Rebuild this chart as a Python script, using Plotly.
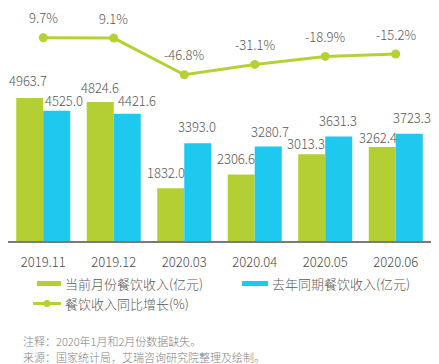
import plotly.graph_objects as go

# ---- data ----
months = ["2019.11", "2019.12", "2020.03", "2020.04", "2020.05", "2020.06"]
current_revenue = [4963.7, 4824.6, 1832.0, 2306.6, 3013.3, 3262.4]
last_year_revenue = [4525.0, 4421.6, 3393.0, 3280.7, 3631.3, 3723.3]
yoy_growth = [9.7, 9.1, -46.8, -31.1, -18.9, -15.2]

name_cur = "当前月份餐饮收入(亿元)"
name_last = "去年同期餐饮收入(亿元)"
name_yoy = "餐饮收入同比增长(%)"
note1 = "注释：2020年1月和2月份数据缺失。"
note2 = "来源：国家统计局，艾瑞咨询研究院整理及绘制。"

# ---- style ----
GREEN = "#b3cf33"
BLUE = "#1fc8ef"
LINE_GREEN = "#b5d235"
TEXT = "#595959"
FONT = "Noto Sans CJK SC"
WEIGHT = 300

# page body has an 8px margin: figure starts at window (8, 8)
OFF = 8
WIN_W, WIN_H = 439, 364
W, H = WIN_W - OFF, WIN_H - OFF
PLOT_X0, PLOT_X1 = 8, 431      # window px
PLOT_Y0, PLOT_Y1 = 10, 241     # window px
L = PLOT_X0 - OFF
R = W - (PLOT_X1 - OFF)
T = PLOT_Y0 - OFF
B = H - (PLOT_Y1 - OFF)
PW, PH = W - L - R, H - T - B

def px(x):
    return (x - PLOT_X0) / PW

def py(y):
    return (PLOT_Y1 - y) / PH

def fnt(size=13, color=TEXT):
    return dict(size=size, color=color, family=FONT, weight=WEIGHT)

# label nudges (pixels) to mimic the reference's label placement
green_dy = [18, 15, 16, 16, 11, 10]
blue_dy = [10, 13, 17, 15, 16, 16]
green_dx = [-2, 0, -5, -5, -6, -4]
blue_dx = [7, 10, -1, 2, -1, 3]

bargap = 0.234
cat_w = PW / len(months)
bar_w = cat_w * (1 - bargap) / 2

fig = go.Figure()
fig.add_trace(go.Bar(x=months, y=current_revenue, name=name_cur,
                     marker=dict(color=GREEN, line=dict(width=0)), showlegend=False))
fig.add_trace(go.Bar(x=months, y=last_year_revenue, name=name_last,
                     marker=dict(color=BLUE, line=dict(width=0)), showlegend=False))
fig.add_trace(go.Scatter(x=months, y=yoy_growth, name=name_yoy, yaxis="y2",
                         mode="lines+markers",
                         line=dict(color=LINE_GREEN, width=3),
                         marker=dict(color=LINE_GREEN, size=9),
                         showlegend=False))

ann = []
for i, m in enumerate(months):
    ann.append(dict(x=i, y=current_revenue[i], xref="x", yref="y",
                    text=f"{current_revenue[i]:.1f}", showarrow=False,
                    xshift=-bar_w / 2 + green_dx[i], yshift=green_dy[i],
                    font=fnt()))
    ann.append(dict(x=i, y=last_year_revenue[i], xref="x", yref="y",
                    text=f"{last_year_revenue[i]:.1f}", showarrow=False,
                    xshift=bar_w / 2 + blue_dx[i], yshift=blue_dy[i],
                    font=fnt()))
    ann.append(dict(x=i, y=yoy_growth[i], xref="x", yref="y2",
                    text=f"{yoy_growth[i]:.1f}%", showarrow=False,
                    yshift=20, font=fnt()))

# custom legend
shapes = [
    dict(type="rect", xref="paper", yref="paper", x0=px(37), x1=px(61),
         y0=py(286), y1=py(281), fillcolor=GREEN, line=dict(width=0)),
    dict(type="rect", xref="paper", yref="paper", x0=px(242), x1=px(268),
         y0=py(286), y1=py(281), fillcolor=BLUE, line=dict(width=0)),
    dict(type="line", xref="paper", yref="paper", x0=px(33), x1=px(61),
         y0=py(303.5), y1=py(303.5), line=dict(color=LINE_GREEN, width=3)),
    dict(type="circle", xref="paper", yref="paper", x0=px(43.5), x1=px(50.5),
         y0=py(307), y1=py(300), fillcolor=LINE_GREEN, line=dict(width=0)),
]
for txt, x, y in [(name_cur, 63, 283.5), (name_last, 270, 283.5), (name_yoy, 63, 303.5)]:
    ann.append(dict(x=px(x), y=py(y), xref="paper", yref="paper", text=txt,
                    showarrow=False, xanchor="left", yanchor="middle",
                    font=fnt()))
for txt, y in [(note1, 341), (note2, 356.7)]:
    ann.append(dict(x=px(20.5), y=py(y), xref="paper", yref="paper", text=txt,
                    showarrow=False, xanchor="left", yanchor="middle",
                    font=fnt(11, "#7f7f7f")))

fig.update_layout(
    width=W, height=H,
    margin=dict(l=L, r=R, t=T, b=B, pad=0, autoexpand=False),
    paper_bgcolor="white", plot_bgcolor="white",
    barmode="group", bargap=bargap, bargroupgap=0,
    font=fnt(),
    xaxis=dict(type="category", range=[-0.5, len(months) - 0.5],
               showline=True, linecolor="#7a7a7a", linewidth=1.5,
               showgrid=False, zeroline=False, ticks="", ticklabelstandoff=9,
               automargin=False, tickfont=fnt(13, "#4d4d4d")),
    yaxis=dict(range=[0, 8020], visible=False, showgrid=False, zeroline=False),
    yaxis2=dict(range=[-300.7, 52.0], overlaying="y", side="right",
                visible=False, showgrid=False, zeroline=False),
    annotations=ann,
    shapes=shapes,
    showlegend=False,
)

fig.write_html("out.html")
